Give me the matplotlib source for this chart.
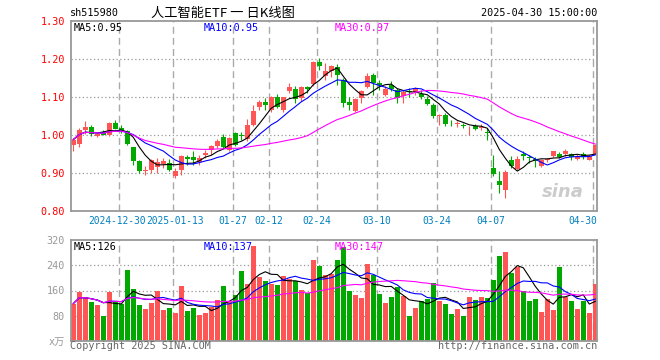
import matplotlib
matplotlib.use("Agg")
import matplotlib.pyplot as plt
import numpy as np
import pandas as pd

plt.rcParams["font.family"] = ["DejaVu Sans Mono", "Noto Sans CJK SC"]

# 日K数据 2024-12-18 ~ 2025-04-30
opens = [0.973, 0.977, 1.012, 1.020, 0.998, 1.008, 1.001, 1.032, 1.018, 1.010,
         0.968, 0.931, 0.905, 0.909, 0.917, 0.924, 0.926, 0.891, 0.909, 0.941,
         0.941, 0.929, 0.947, 0.960, 0.970, 0.996, 0.961, 1.005, 1.000, 0.990,
         1.027, 1.073, 1.088, 1.067, 1.100, 1.067, 1.117, 1.122, 1.097, 1.126,
         1.134, 1.193, 1.156, 1.169, 1.179, 1.146, 1.086, 1.062, 1.097, 1.126,
         1.157, 1.137, 1.104, 1.131, 1.119, 1.102, 1.116, 1.113, 1.109, 1.095,
         1.078, 1.050, 1.053, 1.030, 1.028, 1.027, 1.020, 1.025, 1.019, 1.008,
         0.913, 0.880, 0.854, 0.933, 0.911, 0.951, 0.942, 0.937, 0.919, 0.934,
         0.944, 0.951, 0.951, 0.951, 0.938, 0.951, 0.935, 0.951]
highs = [0.992, 1.018, 1.038, 1.027, 1.006, 1.012, 1.034, 1.040, 1.027, 1.013,
         0.969, 0.935, 0.918, 0.938, 0.939, 0.939, 0.938, 0.913, 0.948, 0.948,
         0.957, 0.948, 0.961, 0.975, 0.990, 1.003, 0.994, 1.008, 1.008, 1.043,
         1.080, 1.093, 1.097, 1.103, 1.108, 1.101, 1.137, 1.128, 1.128, 1.130,
         1.195, 1.203, 1.189, 1.185, 1.188, 1.150, 1.100, 1.097, 1.119, 1.163,
         1.163, 1.146, 1.128, 1.141, 1.124, 1.119, 1.124, 1.126, 1.119, 1.102,
         1.084, 1.055, 1.057, 1.040, 1.037, 1.032, 1.025, 1.030, 1.028, 1.018,
         0.948, 0.904, 0.909, 0.944, 0.944, 0.957, 0.948, 0.942, 0.936, 0.940,
         0.959, 0.955, 0.964, 0.953, 0.951, 0.955, 0.948, 0.975]
lows = [0.957, 0.968, 1.003, 0.997, 0.995, 0.999, 0.998, 1.015, 1.005, 0.973,
        0.922, 0.900, 0.894, 0.900, 0.899, 0.913, 0.905, 0.886, 0.896, 0.922,
        0.922, 0.922, 0.939, 0.948, 0.966, 0.965, 0.957, 0.971, 0.988, 0.985,
        1.025, 1.067, 1.066, 1.060, 1.072, 1.060, 1.110, 1.084, 1.090, 1.110,
        1.130, 1.171, 1.146, 1.152, 1.132, 1.075, 1.065, 1.060, 1.084, 1.124,
        1.104, 1.119, 1.102, 1.115, 1.084, 1.084, 1.100, 1.106, 1.095, 1.080,
        1.044, 1.027, 1.025, 1.025, 1.020, 1.018, 1.001, 1.014, 1.012, 0.988,
        0.891, 0.847, 0.834, 0.913, 0.909, 0.935, 0.926, 0.916, 0.916, 0.930,
        0.942, 0.940, 0.946, 0.935, 0.935, 0.937, 0.933, 0.950]
closes = [0.988, 1.014, 1.020, 1.003, 1.002, 1.001, 1.032, 1.017, 1.014, 0.976,
          0.931, 0.904, 0.909, 0.935, 0.928, 0.932, 0.909, 0.904, 0.946, 0.936,
          0.935, 0.939, 0.953, 0.970, 0.985, 0.968, 0.992, 0.975, 0.997, 1.027,
          1.062, 1.086, 1.078, 1.100, 1.075, 1.099, 1.126, 1.095, 1.126, 1.122,
          1.193, 1.182, 1.169, 1.181, 1.157, 1.084, 1.078, 1.095, 1.115, 1.156,
          1.137, 1.132, 1.122, 1.122, 1.097, 1.113, 1.113, 1.122, 1.100, 1.082,
          1.051, 1.053, 1.030, 1.028, 1.031, 1.023, 1.022, 1.017, 1.022, 1.005,
          0.897, 0.869, 0.902, 0.919, 0.938, 0.946, 0.939, 0.931, 0.933, 0.937,
          0.957, 0.942, 0.959, 0.942, 0.946, 0.942, 0.946, 0.973]
volumes = [118.5, 155.5, 137.5, 123.9, 113.2, 78.4, 155.5, 124, 116.3, 226,
           166, 113, 102.7, 120.7, 158.6, 97.4, 105.9, 90, 175.4, 94.2,
           105.9, 83.7, 90, 108, 131, 175.4, 124, 147, 220.6, 181.7,
           299.6, 203.8, 191, 180.7, 178.5, 207, 196.5, 191, 162.7, 151,
           257.5, 236.4, 210, 213.3, 257.5, 297.6, 158.6, 147, 137.5, 245,
           208, 150, 121.7, 139.6, 171.2, 141.6, 78.4, 105.9, 128, 134.3,
           184.9, 126.4, 118.5, 86.9, 102.7, 80.6, 140.3, 131, 138.4, 137.5,
           194.3, 270.2, 282.8, 214.3, 233.3, 159, 126.4, 132.7, 93.2, 134.3,
           97.4, 235.4, 139.6, 126.4, 102.7, 126.4, 90, 181.7]

tick_idx = [8, 17, 27, 33, 41, 51, 61, 70, 87]
tick_labels = ["2024-12-30", "2025-01-13", "01-27", "02-12", "02-24",
               "03-10", "03-24", "04-07", "04-30"]
price_ticks = [0.80, 0.90, 1.00, 1.10, 1.20, 1.30]
vol_ticks = [0, 80, 160, 240, 320]
vol_tick_labels = ["x万", "80", "160", "240", "320"]
ma_windows = [5, 10, 30]
price_ma_last = [0.95, 0.95, 0.97]
vol_ma_last = [126, 137, 147]

RED = "#ff5555"
GREEN = "#00a800"
MA_COLORS = ["black", "#0000ff", "#ff00ff"]
FRAME = "#999999"
W = 0.83  # 柱宽
FS = 7.3
LW = 0.8

o = np.array(opens)
h = np.array(highs)
l = np.array(lows)
c = np.array(closes)
v = np.array(volumes)
x = np.arange(len(c))
up = c >= o
colors = np.where(up, RED, GREEN)

fig = plt.figure(figsize=(6.6, 3.6), dpi=100)
ax = fig.add_axes([70.5 / 660, 149 / 360, 526.5 / 660, 190 / 360])
ax2 = fig.add_axes([70.5 / 660, 19 / 360, 526.5 / 660, 101 / 360])


def style_axes(a):
    for s in a.spines.values():
        s.set_color(FRAME)
        s.set_linewidth(1.3)
    a.set_xlim(-0.05, 87.7)
    a.set_xticks([])
    a.tick_params(axis="y", length=0, pad=4, labelsize=FS)
    for t in tick_idx:
        a.axvline(t, color="#aaaaaa", lw=1.0, ls=(0, (5, 3)), zorder=0)


# K线
style_axes(ax)
ax.set_ylim(0.80, 1.30)
ax.set_yticks(price_ticks)
ax.set_yticklabels([f"{p:.2f}" for p in price_ticks], color="red")
for p in price_ticks[1:-1]:
    ax.axhline(p, color="#999999", lw=0.9, ls=(0, (1, 2)), zorder=0)
body = np.maximum(np.abs(c - o), 0.0012)
ax.vlines(x + W / 2, l, h, colors=colors, lw=LW, zorder=2)
ax.bar(x, body, bottom=np.minimum(o, c), width=W, align="edge",
       color=colors, zorder=2)
for w, col in zip(ma_windows, MA_COLORS):
    ma = pd.Series(c).rolling(w, min_periods=1).mean()
    ax.plot(x + W / 2, ma, color=col, lw=LW, zorder=3)
for xpos, w, col, val in zip([74, 204, 335], ma_windows, MA_COLORS, price_ma_last):
    fig.text(xpos / 660, 1 - 28 / 360, f"MA{w}:{val:.2f}", color=col,
             fontsize=FS, va="center", ha="left")
# 前两个日期标签紧挨着，略向两侧错开
shift = {8: -2.2 / 6, 17: 2.2 / 6}
for t, lab in zip(tick_idx, tick_labels):
    if t == tick_idx[-1]:
        ax.text(1.0, -0.053, lab, transform=ax.transAxes, ha="right",
                va="center", color="#0080c0", fontsize=6.9)
    else:
        ax.text(t + shift.get(t, 0), -0.053, lab,
                transform=ax.get_xaxis_transform(),
                ha="center", va="center", color="#0080c0", fontsize=6.9)
ax.text(0.975, 0.1, "sina", transform=ax.transAxes, ha="right", va="center",
        fontsize=13, fontstyle="italic", fontweight="bold", color="#cccccc",
        family="DejaVu Sans", zorder=1)

# 成交量
style_axes(ax2)
ax2.set_ylim(0, 320)
ax2.set_yticks(vol_ticks)
ax2.set_yticklabels(vol_tick_labels, color="#999999")
for p in vol_ticks[1:-1]:
    ax2.axhline(p, color="#999999", lw=0.9, ls=(0, (1, 2)), zorder=0)
ax2.bar(x, v, width=W, align="edge", color=colors, zorder=2)
for w, col in zip(ma_windows, MA_COLORS):
    ma = pd.Series(v).rolling(w, min_periods=1).mean()
    ax2.plot(x + W / 2, ma, color=col, lw=LW, zorder=3)
for xpos, w, col, val in zip([74, 204, 335], ma_windows, MA_COLORS, vol_ma_last):
    fig.text(xpos / 660, 1 - 247 / 360, f"MA{w}:{val}", color=col,
             fontsize=FS, va="center", ha="left")

# 标题与版权
fig.text(70 / 660, 1 - 13 / 360, "sh515980", fontsize=FS, va="center", ha="left")
fig.text(223 / 660, 1 - 13 / 360, "人工智能ETF 一 日K线图", fontsize=9.5,
         va="center", ha="center", family=["Noto Sans CJK SC", "DejaVu Sans"])
fig.text(597 / 660, 1 - 13 / 360, "2025-04-30 15:00:00", fontsize=FS,
         va="center", ha="right")
fig.text(70 / 660, 1 - 346 / 360, "Copyright 2025 SINA.COM", fontsize=FS,
         va="center", ha="left", color="#666666")
fig.text(597 / 660, 1 - 346 / 360, "http://finance.sina.com.cn", fontsize=FS,
         va="center", ha="right", color="#666666")

fig.savefig("out.png", dpi=100)
